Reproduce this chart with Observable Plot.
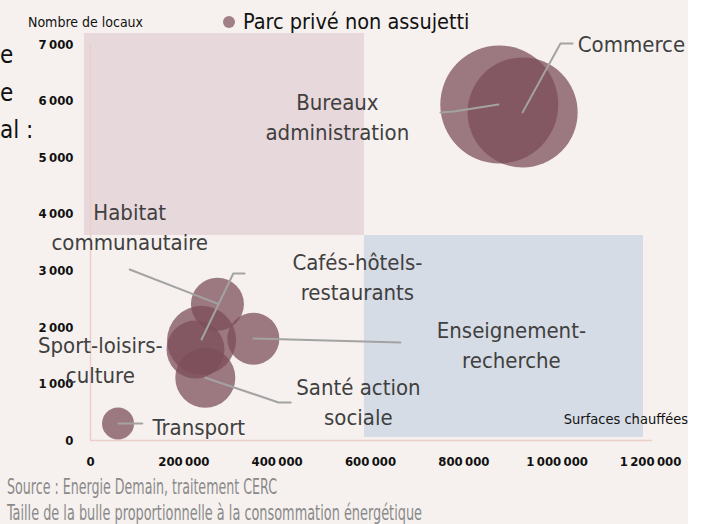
<!DOCTYPE html>
<html><head><meta charset="utf-8">
<script src="https://cdn.jsdelivr.net/npm/d3@7"></script>
<script src="https://cdn.jsdelivr.net/npm/@observablehq/plot@0.6"></script>
<style>
body{margin:0;background:#fff;}
#wrap{position:relative;width:688px;height:524px;background:#f6f1ef;overflow:hidden;font-family:"Liberation Sans Narrow","DejaVu Sans Condensed",sans-serif;}
#chart{position:absolute;left:0;top:0;}
.abs{position:absolute;white-space:nowrap;line-height:1;}
.fit{transform-origin:0 50%;}
</style></head><body>
<div id="wrap">
  <div id="chart"></div>
  <div class="abs" style="left:0;top:43px;font-size:24px;color:#111;">e</div>
  <div class="abs" style="left:0;top:81px;font-size:24px;color:#111;">e</div>
  <div class="abs" style="left:0;top:118px;font-size:24px;color:#111;">al :</div>
  <div class="abs" style="left:28px;top:15px;font-size:14px;color:#111;">Nombre de locaux</div>
  <div class="abs" style="left:223px;top:11px;font-size:21.5px;color:#111;"><span style="display:inline-block;width:12px;height:12px;border-radius:50%;background:#a07f87;margin-right:8px;vertical-align:1px;"></span>Parc privé non assujetti</div>
  <div class="abs" style="right:0;top:412px;font-size:14.5px;color:#111;">Surfaces chauffées</div>
  <div class="abs fit" data-w="270" style="left:7px;top:477px;font-size:21px;color:#8a8a8a;">Source : Energie Demain, traitement CERC</div>
  <div class="abs fit" data-w="415" style="left:7px;top:503px;font-size:21px;color:#8a8a8a;">Taille de la bulle proportionnelle à la consommation énergétique</div>
</div>
<script>
// Bubble data
const sectors = ["Bureaux administration","Commerce","Cafés-hôtels-restaurants","Sport-loisirs-culture","Santé action sociale","Enseignement-recherche","Habitat communautaire","Transport"];
const surfaces = [876000, 926000, 238000, 225000, 246000, 349000, 272000, 59000];
const locaux = [5940, 5800, 1770, 1610, 1110, 1800, 2410, 300];
const consommation = [3480, 3025, 1190, 840, 900, 676, 702, 256];

// Labels
const labelText = ["Bureaux\nadministration","Commerce","Cafés-hôtels-\nrestaurants","Sport-loisirs-\nculture","Santé action\nsociale","Enseignement-\nrecherche","Habitat\ncommunautaire","Transport"];
const labelX = [529000, 1044000, 572000, 21000, 574000, 902000, 84000, 133000];
const labelY = [5754, 7035, 2917, 1458, 707, 1723, 3809, 265];
const labelAnchor = ["middle","start","middle","middle","middle","middle","middle","start"];

// Leader lines (annotation paths)
const leaderSector = ["Bureaux administration","Bureaux administration","Bureaux administration",
  "Commerce","Commerce","Commerce",
  "Cafés-hôtels-restaurants","Cafés-hôtels-restaurants","Cafés-hôtels-restaurants",
  "Santé action sociale","Santé action sociale","Santé action sociale",
  "Enseignement-recherche","Enseignement-recherche",
  "Habitat communautaire","Habitat communautaire",
  "Transport","Transport"];
const leaderX = [750000,778000,874000, 1033000,1007000,926000, 330000,306000,238000, 429000,403000,246000, 664000,349000, 84000,272000, 111000,60000];
const leaderY = [5798,5816,5940, 7018,7018,5800, 2952,2952,1785, 672,672,1110, 1732,1803, 3023,2420, 300,300];

// Background zones
const zoneX1 = [-13000, 587000];
const zoneX2 = [587000, 1185000];
const zoneY1 = [3624, 53];
const zoneY2 = [7195, 3624];
const zoneFill = ["#e7d8db", "#d6dce5"];

// Ticks
const xTicks = [0, 200000, 400000, 600000, 800000, 1000000, 1200000];
const yTicks = [0, 1000, 2000, 3000, 4000, 5000, 6000, 7000];

const bubbles = sectors.map((s, i) => ({sector: s, x: surfaces[i], y: locaux[i], c: consommation[i]}));
const labels = labelText.map((t, i) => ({text: t, x: labelX[i], y: labelY[i], anchor: labelAnchor[i]}));
const leaders = leaderSector.map((s, i) => ({sector: s, x: leaderX[i], y: leaderY[i]}));
const zones = zoneX1.map((x1, i) => ({x1, x2: zoneX2[i], y1: zoneY1[i], y2: zoneY2[i], fill: zoneFill[i]}));
const fmt = d => d3.format(",")(d).replace(/,/g, "\u2009");

const font = '"Liberation Sans Narrow","DejaVu Sans Condensed",sans-serif';
const chart = Plot.plot({
  width: 688, height: 475,
  marginLeft: 90, marginRight: 38, marginTop: 44, marginBottom: 35,
  style: {background: "transparent", fontFamily: font},
  x: {domain: [0, 1200000]},
  y: {domain: [0, 7000]},
  r: {type: "sqrt", domain: [0, 3600], range: [0, 60]},
  marks: [
    Plot.rect(zones, {x1: "x1", x2: "x2", y1: "y1", y2: "y2", fill: "fill"}),
    Plot.ruleX([0], {y1: 0, y2: 7000, stroke: "#eccfc7", strokeWidth: 1.5}),
    Plot.ruleY([0], {x1: 0, x2: 1205000, stroke: "#eccfc7", strokeWidth: 1.5}),
    Plot.axisX({ticks: xTicks, tickSize: 0, tickPadding: 16, tickFormat: fmt, fontSize: 13, fill: "#111", fontWeight: 600}),
    Plot.axisY({ticks: yTicks, tickSize: 0, tickPadding: 17, tickFormat: fmt, fontSize: 13, fill: "#111", fontWeight: 600}),
    Plot.dot(bubbles, {x: "x", y: "y", r: "c", fill: "#7c4d59", fillOpacity: 0.74, stroke: "none"}),
    Plot.line(leaders, {x: "x", y: "y", z: "sector", stroke: "#a3a3a3", strokeWidth: 2}),
    Plot.text(labels.filter(d => d.anchor === "middle"), {x: "x", y: "y", text: "text", textAnchor: "middle", lineAnchor: "middle", lineHeight: 1.36, fontSize: 22, fill: "#404040"}),
    Plot.text(labels.filter(d => d.anchor === "start"), {x: "x", y: "y", text: "text", textAnchor: "start", lineAnchor: "middle", lineHeight: 1.36, fontSize: 22, fill: "#404040"})
  ]
});
document.getElementById("chart").appendChild(chart);
document.querySelectorAll(".fit").forEach(el => {
  const w = el.getBoundingClientRect().width;
  el.style.transform = `scaleX(${(+el.dataset.w) / w})`;
});
</script>
</body></html>
